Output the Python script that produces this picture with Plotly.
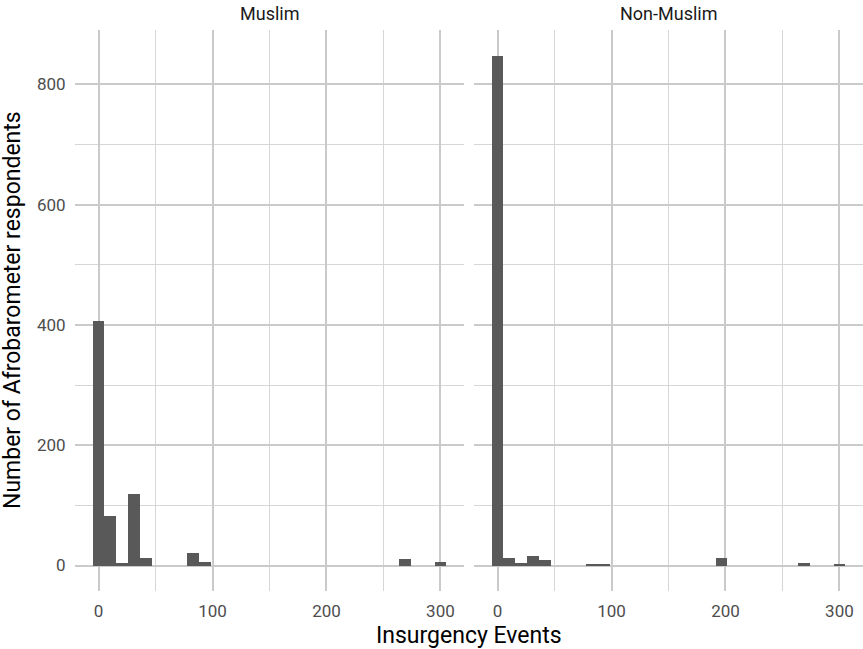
import plotly.graph_objects as go
from plotly.subplots import make_subplots

# Histogram of insurgency events: 30 bins spanning 0..300 (bins centred on the range ends)
facets = ["Muslim", "Non-Muslim"]
n_bins = 30
x_min, x_max = 0, 300

muslim_counts = [407, 83, 4, 119, 13, 0, 0, 0, 21, 5,
                 0, 0, 0, 0, 0, 0, 0, 0, 0, 0,
                 0, 0, 0, 0, 0, 0, 11, 0, 0, 5]
non_muslim_counts = [848, 13, 4, 15, 9, 0, 0, 0, 3, 1,
                     0, 0, 0, 0, 0, 0, 0, 0, 0, 13,
                     0, 0, 0, 0, 0, 0, 4, 0, 0, 1]

x_ticks = [0, 100, 200, 300]
y_ticks = [0, 200, 400, 600, 800]

bin_width = (x_max - x_min) / (n_bins - 1)
centers = [x_min + k * bin_width for k in range(n_bins)]

lo, hi = x_min - bin_width / 2, x_max + bin_width / 2
span = hi - lo
x_range = [lo - 0.05 * span, hi + 0.05 * span]
y_top = max(max(muslim_counts), max(non_muslim_counts))
y_range = [-0.05 * y_top, 1.05 * y_top]

W, H = 863, 649
ml, mr, mt, mb = 75, 0, 30, 58
plot_w = W - ml - mr
gap = 10 / plot_w

fig = make_subplots(rows=1, cols=2, shared_yaxes=True, horizontal_spacing=gap)

bar_color = "#595959"
for i, counts in enumerate([muslim_counts, non_muslim_counts]):
    fig.add_trace(
        go.Bar(x=centers, y=counts, width=bin_width,
               marker=dict(color=bar_color, line=dict(width=0)),
               showlegend=False, hoverinfo="x+y"),
        row=1, col=i + 1,
    )

grid_major = "#CACACA"
grid_minor = "#D6D6D6"
font_family = "Roboto, sans-serif"
tick_font = dict(family=font_family, size=17, color="#4D4D4D")

for c in (1, 2):
    fig.update_xaxes(
        range=x_range, tickvals=x_ticks, ticktext=[str(v) for v in x_ticks],
        showgrid=True, gridcolor=grid_major, gridwidth=1.5,
        minor=dict(dtick=50, tick0=0, showgrid=True, gridcolor=grid_minor, gridwidth=0.9),
        zeroline=False, showline=False,
        ticks="outside", ticklen=5, tickcolor="rgba(0,0,0,0)",
        tickfont=tick_font, row=1, col=c,
    )
    fig.update_yaxes(
        range=y_range, tickvals=y_ticks, ticktext=[str(v) for v in y_ticks],
        showgrid=True, gridcolor=grid_major, gridwidth=1.5,
        minor=dict(dtick=100, tick0=0, showgrid=True, gridcolor=grid_minor, gridwidth=0.9),
        zeroline=False, showline=False,
        ticks="outside", ticklen=5, tickcolor="rgba(0,0,0,0)",
        tickfont=tick_font, row=1, col=c,
    )

fig.update_yaxes(showticklabels=False, row=1, col=2)

# facet strip labels, centred over each panel
for i, name in enumerate(facets):
    dom = fig.layout["xaxis" if i == 0 else "xaxis2"].domain
    fig.add_annotation(
        x=(dom[0] + dom[1]) / 2, y=1, xref="paper", yref="paper",
        xanchor="center", yanchor="bottom", yshift=4, showarrow=False, text=name,
        font=dict(family=font_family, size=18, color="#1A1A1A"),
    )

# shared axis titles
fig.add_annotation(
    x=0.5, y=0, xref="paper", yref="paper", xanchor="center", yanchor="top",
    yshift=-29, showarrow=False, text="Insurgency Events",
    font=dict(family=font_family, size=23, color="#000000"),
)
fig.add_annotation(
    x=0, y=0.5, xref="paper", yref="paper", xanchor="right", yanchor="middle",
    xshift=-47, textangle=-90, showarrow=False,
    text="Number of Afrobarometer respondents",
    font=dict(family=font_family, size=23, color="#000000"),
)

fig.update_layout(
    width=W, height=H,
    margin=dict(l=ml, r=mr, t=mt, b=mb),
    plot_bgcolor="white", paper_bgcolor="white",
    bargap=0,
)

fig.write_html("out.html")
